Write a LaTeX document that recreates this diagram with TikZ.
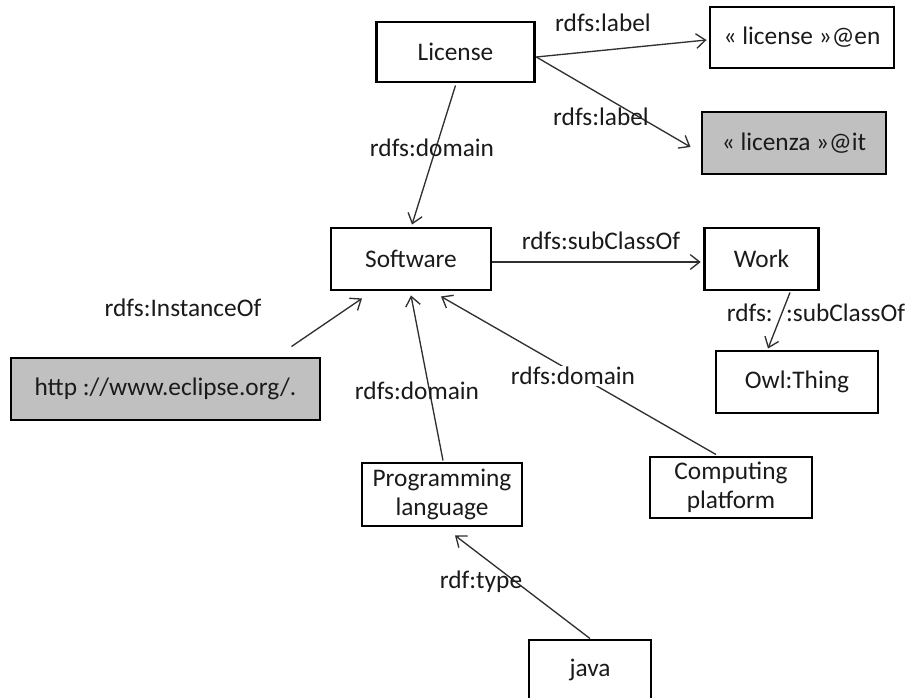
\documentclass[tikz,border=0pt]{standalone}
\usepackage{fontspec}
\setmainfont{Carlito}
\usetikzlibrary{arrows.meta,calc}
\definecolor{boxgray}{HTML}{C0C0C0}
\definecolor{txt}{HTML}{1A1A1A}
\definecolor{lnc}{HTML}{303030}
\begin{document}
\begin{tikzpicture}[x=0.75pt,y=-0.75pt,
  box/.style={draw=black,line width=2.2pt,inner sep=0pt,align=center,text=txt,
    font=\fontsize{19}{21.5}\selectfont},
  graybox/.style={box,fill=boxgray},
  lab/.style={inner sep=1pt,text=txt,font=\fontsize{19}{21.5}\selectfont},
  conn/.style={draw=lnc,line width=1pt,-{Straight Barb[length=7pt,width=11pt,line width=1pt]}}]
\useasboundingbox (0,0) rectangle (909,698);
% nodes
\node[box,minimum width=119pt,minimum height=45pt] (lic) at (455.5,52) {License};
\node[box,minimum width=138pt,minimum height=45.75pt] (en) at (802,37.5) {« license »@en};
\node[graybox,minimum width=138pt,minimum height=46.5pt] (it) at (794,143) {« licenza »@it};
\node[box,minimum width=120pt,minimum height=46.5pt] (sw) at (411,259) {Software};
\node[box,minimum width=86pt,minimum height=46.5pt] (work) at (761.5,259) {Work};
\node[box,minimum width=121.5pt,minimum height=46.5pt] (owl) at (797,382) {Owl:Thing};
\node[graybox,minimum width=231.75pt,minimum height=46.5pt] (http) at (165.5,389) {http ://www.eclipse.org/.};
\node[box,minimum width=120pt,minimum height=47.25pt] (pl) at (442,494.5) {Programming\\language};
\node[box,minimum width=121.5pt,minimum height=45.75pt] (cp) at (731,487.5) {Computing\\platform};
\node[box,minimum width=91.5pt,minimum height=45pt] (java) at (590,670) {java};
% connectors
\draw[conn] ($(lic.east)+(0,5)$) -- ($(en.west)+(-2,2.5)$);
\draw[conn] ($(lic.east)+(0,5)$) -- ($(it.west)+(-10,4)$);
\draw[conn] ($(lic.south)+(0,2)$) -- ($(sw.north)+(1,-2)$);
\draw[conn] ($(sw.east)+(0,3)$) -- ($(work.west)+(-2,3)$);
\draw[conn] ($(work.south)+(28.5,1)$) -- ($(owl.north)+(-29,-1)$);
\draw[conn] ($(http.north east)+(-30,-10)$) -- ($(sw.south)+(-49,7)$);
\draw[conn] ($(pl.north)+(1,-1)$) -- ($(sw.south)+(0,4)$);
\draw[conn] ($(cp.north)+(-15,-1)$) -- ($(sw.south)+(30,5)$);
\draw[conn] (java.north) -- ($(pl.south)+(13,8)$);
% labels
\node[lab] (l1) at (603,23) {rdfs:label};
\node[lab] (l2) at (601,117) {rdfs:label};
\node[lab] (l3) at (432,148) {rdfs:domain};
\node[lab] (l4) at (601,241) {rdfs:subClassOf};
\node[lab] (l5) at (816,313) {rdfs:\hspace{10pt}:subClassOf};
\node[lab] (l6) at (183,308) {rdfs:InstanceOf};
\node[lab] (l7) at (417,391) {rdfs:domain};
\node[lab,fill=white] (l8) at (573,376) {rdfs:domain};
\node[lab] (l9) at (481,582) {rdf:type};
\end{tikzpicture}
\end{document}
